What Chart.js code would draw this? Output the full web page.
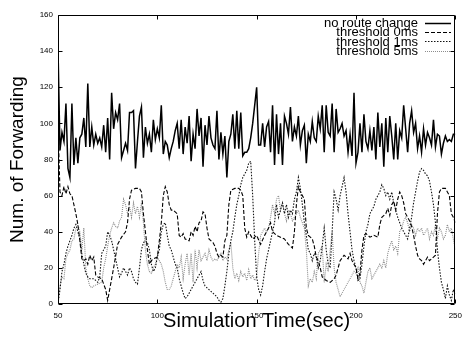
<!DOCTYPE html>
<html lang="en">
    <head>
        <meta charset="UTF-8" />
        <title>Num. of Forwarding</title>
        <script src="https://cdn.jsdelivr.net/npm/chart.js"></script>
        <style>
            body {
                margin: 0;
                background: #fff;
            }
            #chart {
                display: block;
            }
        </style>
    </head>
    <body>
        <canvas id="chart" width="469" height="338"></canvas>

        <script>
            // no route change, one sample per second from 50 to 250
            const noRouteStart = 50;
            const noRouteChange = [
                142, 85, 95, 90, 111, 75, 70, 111, 77, 92,
                78, 92, 94, 103, 87, 122, 87, 98, 88, 94,
                89, 92, 87, 99, 84, 103, 80, 117, 97, 106,
                102, 111, 81, 85, 89, 85, 106, 106, 107, 75,
                90, 104, 109, 81, 98, 89, 94, 84, 102, 91,
                97, 92, 110, 83, 90, 88, 81, 86, 90, 96,
                100, 86, 102, 83, 98, 89, 104, 79, 94, 86,
                108, 93, 103, 76, 99, 88, 104, 92, 88, 86,
                107, 80, 95, 83, 93, 70, 90, 94, 105, 86,
                107, 86, 106, 82, 84, 84, 86, 92, 100, 110,
                120, 88, 88, 100, 87, 98, 101, 84, 110, 77,
                105, 83, 100, 77, 104, 100, 94, 109, 90, 98,
                93, 104, 88, 96, 99, 78, 94, 90, 101, 92,
                90, 104, 97, 110, 84, 110, 95, 93, 111, 84,
                108, 95, 97, 100, 93, 96, 84, 94, 82, 117,
                78, 84, 100, 84, 105, 90, 86, 96, 85, 98,
                80, 106, 87, 100, 76, 103, 84, 104, 93, 80,
                100, 80, 96, 92, 110, 97, 84, 100, 107, 95,
                100, 86, 93, 84, 97, 88, 95, 92, 88, 102,
                87, 94, 93, 83, 89, 93, 90, 91, 90, 94,
                94,
            ];

            // [time, count]
            const threshold0ms = [
                [50,100],[51,62],[52,60],[53,65],[54,61],[55,65],[56,61],[57,60],[58,55],[59,50],
                [60,44],[61,35],[62,25],[63,24],[64,25],[65,22],[66,27],[67,24],[68,26],[69,16],
                [70,15],[72,14],[74,8],[75,2],[76,8],[78,20],[80,33],[82,37],[84,40],[85,45],
                [86,58],[87,63],[89,64],[91,64],[92,62],[93,50],[94,40],[95,30],[96,22],[97,24],
                [98,25],[100,26],[101,35],[102,45],[103,60],[104,65],[105,62],[106,55],[107,52],[108,52],
                [110,50],[111,38],[112,37],[113,39],[114,36],[116,35],[117,40],[118,38],[119,43],[120,40],
                [121,45],[122,46],[123,51],[124,50],[125,42],[126,36],[128,34],[129,32],[130,28],[131,26],
                [132,27],[133,26],[134,35],[135,38],[136,55],[137,63],[139,64],[141,64],[142,63],[143,60],
                [144,42],[145,37],[146,40],[147,38],[148,36],[150,38],[152,33],[154,38],[156,42],[157,45],
                [158,40],[160,38],[162,37],[164,36],[166,33],[168,31],[169,40],[170,55],[171,65],[172,62],
                [173,60],[174,58],[175,42],[176,38],[178,36],[179,32],[180,26],[181,24],[182,20],[183,15],
                [185,13],[187,12],[189,14],[190,16],[192,24],[194,27],[196,25],[197,28],[198,24],[199,22],
                [200,20],[201,14],[202,17],[203,30],[204,38],[205,39],[207,37],[209,38],[211,37],[212,44],
                [213,48],[215,50],[216,53],[217,49],[218,55],[219,57],[220,52],[221,58],[222,62],[223,60],
                [224,56],[225,50],[226,48],[227,46],[228,43],[229,38],[230,32],[231,27],[232,25],[233,24],
                [234,22],[236,26],[237,24],[239,26],[240,27],[241,50],[242,62],[243,64],[245,64],[246,62],
                [247,60],[248,50],[249,48],[250,45],
            ];

            const threshold1ms = [
                [50,0],[51,8],[52,18],[53,22],[54,28],[55,32],[56,35],[57,38],[58,42],[59,44],
                [60,40],[61,36],[62,28],[63,22],[64,17],[65,15],[66,14],[68,14],[70,12],[71,15],
                [72,28],[73,30],[74,32],[75,40],[76,38],[77,35],[78,30],[79,25],[80,20],[81,15],
                [82,17],[83,20],[84,18],[85,16],[86,20],[87,18],[88,14],[89,12],[90,11],[91,20],
                [92,30],[93,34],[94,35],[95,34],[96,30],[97,22],[98,18],[99,20],[100,26],[101,30],
                [102,40],[103,44],[104,45],[105,38],[106,32],[107,30],[108,26],[109,22],[110,20],[111,14],
                [112,10],[113,6],[114,3],[115,4],[116,6],[117,8],[118,10],[119,12],[120,14],[121,16],
                [122,18],[123,13],[124,10],[126,8],[128,6],[130,4],[131,2],[132,1],[133,3],[134,10],
                [135,18],[136,28],[137,35],[138,40],[139,48],[140,55],[141,60],[142,66],[143,70],[144,72],
                [145,74],[146,78],[147,79],[148,60],[149,35],[150,15],[151,8],[152,5],[153,10],[154,18],
                [155,25],[156,30],[157,35],[158,40],[159,45],[160,55],[161,48],[162,52],[163,56],[164,50],
                [165,55],[166,48],[167,52],[168,50],[169,58],[170,62],[171,70],[172,64],[173,55],[174,45],
                [175,38],[176,30],[177,28],[178,24],[179,28],[180,26],[181,20],[182,24],[183,32],[184,42],
                [185,30],[186,22],[187,20],[188,40],[189,62],[190,58],[191,52],[192,60],[193,65],[194,70],
                [195,62],[196,50],[197,40],[198,30],[199,24],[200,20],[201,13],[202,14],[203,22],[204,32],
                [205,40],[206,44],[207,50],[208,52],[209,54],[210,58],[211,60],[212,62],[213,66],[214,64],
                [215,60],[216,62],[217,58],[218,62],[219,56],[220,52],[221,48],[222,45],[223,42],[224,40],
                [225,38],[226,36],[227,42],[228,48],[229,56],[230,62],[231,68],[232,73],[233,75],[234,74],
                [235,72],[236,71],[237,68],[238,62],[239,55],[240,45],[241,30],[242,20],[243,12],[244,8],
                [245,3],[246,10],[247,5],[248,2],[249,8],[250,5],
            ];

            const threshold5ms = [
                [50,2],[51,10],[52,15],[53,14],[54,25],[55,28],[56,30],[57,35],[58,36],[59,42],
                [60,44],[61,40],[62,30],[63,42],[64,20],[65,14],[66,10],[67,9],[68,10],[70,11],
                [72,12],[73,20],[74,25],[75,32],[76,38],[77,42],[78,45],[79,43],[80,42],[81,46],
                [82,48],[83,58],[84,55],[85,50],[86,54],[87,48],[88,56],[89,50],[90,54],[91,48],
                [92,56],[93,45],[94,30],[95,22],[96,18],[97,17],[98,20],[99,22],[100,26],[101,24],
                [102,22],[103,18],[104,12],[105,8],[106,8],[107,10],[108,14],[109,18],[110,22],[111,20],
                [112,26],[113,14],[114,22],[115,28],[116,16],[117,28],[118,12],[119,30],[120,20],[121,30],
                [122,24],[123,26],[124,28],[125,24],[126,30],[127,26],[128,24],[129,25],[130,24],[131,26],
                [132,28],[133,24],[134,26],[135,25],[136,30],[137,34],[138,20],[139,14],[140,17],[141,13],
                [142,18],[143,15],[144,17],[145,13],[146,19],[147,14],[148,16],[149,13],[150,15],[151,28],
                [152,38],[153,40],[154,42],[155,40],[156,42],[157,48],[158,55],[159,50],[160,58],[161,60],
                [162,52],[163,56],[164,50],[165,46],[166,52],[167,50],[168,46],[169,48],[170,50],[171,52],
                [172,48],[173,45],[174,42],[175,30],[176,10],[177,14],[178,12],[179,18],[180,14],[181,28],
                [182,30],[183,32],[184,12],[185,22],[186,18],[187,30],[188,40],[189,20],[190,12],[191,8],
                [192,4],[193,6],[194,8],[195,10],[196,12],[197,14],[198,16],[199,18],[200,17],[201,20],
                [202,12],[203,10],[204,6],[205,12],[206,18],[207,20],[208,14],[209,16],[210,18],[211,20],
                [212,22],[213,20],[214,24],[215,20],[216,28],[217,32],[218,35],[219,30],[220,32],[221,28],
                [222,40],[223,42],[224,46],[225,48],[226,45],[227,40],[228,44],[229,42],[230,38],[231,42],
                [232,40],[233,42],[234,38],[235,40],[236,42],[237,36],[238,40],[239,38],[240,44],[241,36],
                [242,42],[243,40],[244,36],[245,38],[246,44],[247,40],[248,42],[249,36],[250,30],
            ];

            const xTicks = [50, 100, 150, 200, 250];
            const yTicks = [0, 20, 40, 60, 80, 100, 120, 140, 160];

            const FONT = "'Liberation Sans', Arial, Helvetica, sans-serif";

            const toPoints = (pairs) => pairs.map(([x, y]) => ({ x, y }));

            // gnuplot style box with ticks pointing inward on all four sides
            const framePlugin = {
                id: "frame",
                afterDatasetsDraw(chart) {
                    const { ctx, chartArea: a, scales } = chart;
                    const l = Math.round(a.left) + 0.5;
                    const r = Math.round(a.right) - 0.5;
                    const t = Math.round(a.top) + 0.5;
                    const b = Math.round(a.bottom) - 0.5;
                    const len = 4;
                    ctx.save();
                    ctx.strokeStyle = "#000";
                    ctx.lineWidth = 1;
                    ctx.setLineDash([]);
                    ctx.beginPath();
                    ctx.rect(l, t, r - l, b - t);
                    yTicks.forEach((v) => {
                        const py = Math.round(scales.y.getPixelForValue(v)) + 0.5;
                        ctx.moveTo(l, py);
                        ctx.lineTo(l + len, py);
                        ctx.moveTo(r, py);
                        ctx.lineTo(r - len, py);
                    });
                    xTicks.forEach((v) => {
                        const px = Math.round(scales.x.getPixelForValue(v)) + 0.5;
                        ctx.moveTo(px, b);
                        ctx.lineTo(px, b - len);
                        ctx.moveTo(px, t);
                        ctx.lineTo(px, t + len);
                    });
                    ctx.stroke();
                    ctx.restore();
                },
            };

            // key in the top right corner: right aligned text, line sample after it
            const keyPlugin = {
                id: "key",
                afterDraw(chart) {
                    const { ctx } = chart;
                    const textRight = 418;
                    const sampleFrom = 425;
                    const sampleTo = 451;
                    const firstRow = 22.5;
                    const rowStep = 9.4;
                    ctx.save();
                    ctx.font = "13px " + FONT;
                    ctx.textAlign = "right";
                    ctx.textBaseline = "middle";
                    chart.data.datasets.forEach((ds, i) => {
                        const y = firstRow + i * rowStep;
                        ctx.fillStyle = "#000";
                        ctx.fillText(ds.label, textRight, y + 1);
                        ctx.strokeStyle = ds.borderColor;
                        ctx.lineWidth = ds.borderWidth;
                        ctx.setLineDash(ds.borderDash || []);
                        ctx.beginPath();
                        ctx.moveTo(sampleFrom, Math.round(y) + 0.5);
                        ctx.lineTo(sampleTo, Math.round(y) + 0.5);
                        ctx.stroke();
                    });
                    ctx.restore();
                },
            };

            new Chart(document.getElementById("chart"), {
                type: "line",
                data: {
                    datasets: [
                        {
                            label: "no route change",
                            data: noRouteChange.map((v, i) => ({ x: noRouteStart + i, y: v })),
                            borderColor: "#000",
                            borderWidth: 1.5,
                        },
                        {
                            label: "threshold 0ms",
                            data: toPoints(threshold0ms),
                            borderColor: "#000",
                            borderWidth: 1.1,
                            borderDash: [4, 2],
                        },
                        {
                            label: "threshold 1ms",
                            data: toPoints(threshold1ms),
                            borderColor: "#111",
                            borderWidth: 1.1,
                            borderDash: [1.5, 1.5],
                        },
                        {
                            label: "threshold 5ms",
                            data: toPoints(threshold5ms),
                            borderColor: "#8c8c8c",
                            borderWidth: 1.1,
                            borderDash: [1, 1],
                        },
                    ],
                },
                options: {
                    responsive: false,
                    animation: false,
                    devicePixelRatio: 1,
                    layout: {
                        padding: { left: 0, top: 15, right: 7, bottom: 0 },
                    },
                    elements: {
                        point: { radius: 0 },
                        line: { tension: 0, fill: false },
                    },
                    plugins: {
                        legend: { display: false },
                        tooltip: { enabled: false },
                    },
                    scales: {
                        x: {
                            type: "linear",
                            min: 50,
                            max: 250,
                            afterBuildTicks: (s) => {
                                s.ticks = xTicks.map((v) => ({ value: v }));
                            },
                            afterFit: (s) => {
                                s.height = 34;
                            },
                            grid: { display: false, drawTicks: false },
                            border: { display: false },
                            ticks: {
                                color: "#000",
                                padding: 7,
                                maxRotation: 0,
                                font: { family: FONT, size: 8 },
                            },
                            title: {
                                display: true,
                                text: "Simulation Time(sec)",
                                color: "#000",
                                padding: { top: 0, bottom: 5 },
                                font: { family: FONT, size: 20 },
                            },
                        },
                        y: {
                            min: 0,
                            max: 160,
                            afterBuildTicks: (s) => {
                                s.ticks = yTicks.map((v) => ({ value: v }));
                            },
                            afterFit: (s) => {
                                s.width = 58;
                            },
                            grid: { display: false, drawTicks: false },
                            border: { display: false },
                            ticks: {
                                color: "#000",
                                padding: 5,
                                font: { family: FONT, size: 8 },
                            },
                            title: {
                                display: true,
                                text: "Num. of Forwarding",
                                color: "#000",
                                padding: { top: 6, bottom: 0 },
                                font: { family: FONT, size: 19 },
                            },
                        },
                    },
                },
                plugins: [framePlugin, keyPlugin],
            });
        </script>
    </body>
</html>
